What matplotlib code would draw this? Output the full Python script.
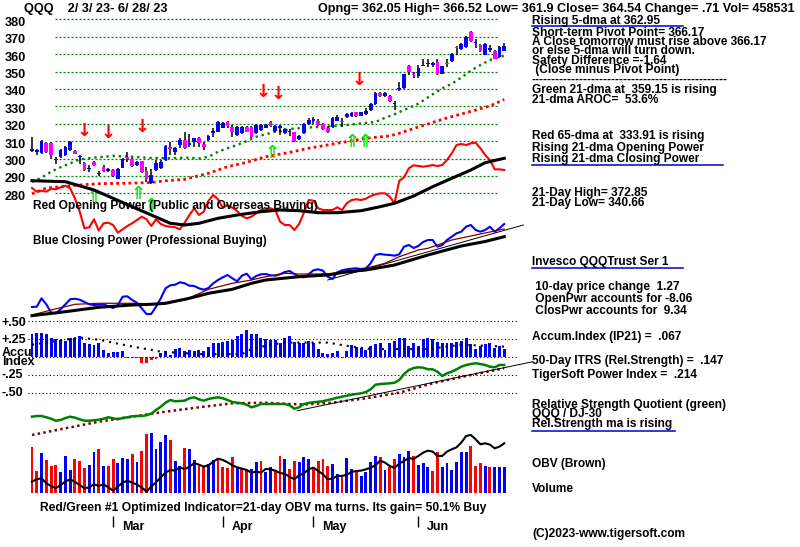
import matplotlib
matplotlib.use("Agg")
import matplotlib.pyplot as plt
from matplotlib.lines import Line2D

W, H = 800, 547
X0, DX = 32.0, 4.77          # pixel x of the first session, pixels per session
FONT = "Liberation Sans"
FS = 8.6

# ---------------- data (one value per trading session, 2/3/23 .. 6/28/23) ----------------
opens = [304.3, 304.0, 303.3, 308.9, 308.9, 299.0, 300.8, 301.8, 304.7, 304.3,
         301.0, 297.4, 294.0, 298.0, 291.0, 295.0, 293.0, 293.6, 288.4, 294.8,
         301.0, 300.0, 296.0, 298.4, 292.6, 285.9, 293.6, 294.5, 299.0, 306.7,
         304.0, 307.7, 310.6, 308.0, 309.6, 311.9, 308.3, 310.6, 314.8, 315.4,
         317.7, 321.2, 318.3, 313.5, 314.4, 318.0, 318.3, 314.4, 316.3, 317.7,
         320.8, 316.0, 317.8, 314.7, 315.0, 315.0, 311.0, 314.7, 320.0, 321.8,
         321.8, 320.0, 317.4, 318.0, 321.8, 321.8, 323.8, 324.4, 326.6, 324.7,
         325.7, 327.6, 331.4, 337.5, 335.8, 335.8, 331.2, 339.8, 340.4, 353.0,
         348.2, 347.3, 353.3, 354.2, 354.0, 355.4, 348.7, 354.4, 355.8, 363.7,
         363.0, 364.0, 372.7, 366.4, 365.4, 359.6, 362.6, 362.0, 358.3, 362.05]
closes = [305.6, 304.5, 310.0, 303.7, 301.8, 299.3, 305.0, 306.6, 309.5, 302.8,
          301.3, 293.6, 294.3, 296.0, 291.3, 293.0, 293.3, 290.0, 294.0, 300.0,
          299.7, 295.5, 298.0, 292.2, 288.4, 290.3, 297.4, 298.0, 307.1, 305.2,
          306.0, 310.6, 305.8, 308.3, 311.5, 308.7, 306.7, 313.0, 315.8, 321.2,
          320.2, 318.8, 315.4, 318.3, 318.3, 315.4, 312.5, 319.2, 319.2, 319.2,
          318.8, 318.8, 318.0, 316.7, 315.2, 310.0, 313.0, 320.0, 322.4, 322.0,
          319.0, 317.0, 315.5, 323.2, 323.8, 321.0, 325.7, 326.2, 324.2, 326.6,
          327.2, 331.4, 337.5, 335.8, 337.5, 333.0, 331.4, 340.0, 348.5, 349.6,
          348.0, 352.0, 353.5, 354.4, 354.2, 348.3, 353.0, 354.2, 360.2, 363.5,
          366.0, 369.8, 367.3, 366.5, 361.5, 366.0, 362.7, 357.3, 364.0, 364.54]
highs = [312.3, 305.6, 310.8, 309.5, 309.2, 300.8, 305.5, 307.0, 310.0, 304.8,
         301.8, 298.0, 296.4, 298.5, 293.0, 296.4, 294.5, 294.0, 294.5, 300.3,
         303.5, 300.5, 298.5, 298.8, 295.0, 293.8, 299.0, 299.0, 307.5, 309.6,
         306.7, 311.5, 315.4, 313.8, 311.8, 312.5, 309.6, 313.5, 317.3, 321.6,
         321.0, 321.6, 319.2, 318.8, 318.8, 318.5, 318.8, 319.6, 319.6, 319.6,
         321.6, 319.2, 319.2, 317.3, 317.0, 315.5, 313.5, 320.4, 323.0, 323.6,
         322.5, 320.5, 318.5, 323.6, 325.0, 323.2, 326.0, 326.6, 327.0, 327.0,
         328.9, 331.8, 338.0, 338.0, 338.5, 336.5, 333.0, 344.0, 348.8, 353.5,
         350.0, 353.5, 357.3, 357.3, 355.4, 357.3, 353.3, 357.3, 360.6, 364.7,
         366.4, 370.2, 373.1, 368.5, 365.8, 366.4, 365.0, 362.4, 364.4, 366.52]
lows = [304.0, 302.0, 302.8, 303.0, 299.9, 297.0, 300.5, 301.5, 304.2, 302.5,
        297.0, 293.0, 292.2, 295.5, 290.0, 292.5, 292.0, 289.5, 288.0, 294.5,
        298.0, 295.0, 295.5, 291.5, 286.5, 285.5, 293.0, 294.0, 298.5, 302.0,
        302.0, 305.8, 305.5, 306.7, 306.7, 306.7, 304.8, 310.0, 312.5, 315.4,
        317.5, 317.7, 312.5, 313.0, 314.0, 315.0, 312.0, 314.0, 316.0, 317.3,
        318.3, 315.5, 313.5, 314.2, 313.0, 309.5, 310.5, 314.2, 319.5, 319.9,
        318.5, 316.5, 314.7, 317.5, 321.5, 318.0, 323.5, 324.0, 323.8, 324.3,
        325.0, 327.2, 331.0, 335.3, 335.5, 332.5, 327.7, 339.0, 340.0, 347.8,
        346.0, 346.0, 353.0, 352.4, 352.4, 348.0, 348.3, 352.4, 355.4, 359.4,
        362.5, 363.5, 366.7, 363.5, 361.0, 359.2, 361.3, 357.0, 358.0, 361.9]

# 21-dma (green) and 65-dma (red), read at selected sessions
ma21_days = [0, 2, 4, 6, 8, 10, 13, 17, 21, 25, 29, 33, 35, 37, 39, 41, 43, 45, 47, 49,
             51, 53, 54, 58, 62, 66, 69, 72, 74, 76, 78, 81, 84, 86, 88, 90, 92, 94, 96, 99]
ma21 = [286.5, 289.0, 292.4, 295.0, 297.2, 299.5, 300.5, 301.5, 301.0, 300.3, 300.2,
        300.5, 300.0, 301.0, 303.9, 305.9, 307.8, 310.0, 312.5, 313.9, 315.4, 316.0,
        317.0, 317.8, 318.4, 319.2, 320.2, 321.0, 323.4, 325.4, 327.9, 331.5, 336.9,
        340.3, 343.0, 346.5, 350.5, 353.7, 356.6, 359.15]
ma65_days = [0, 3, 6, 10, 14, 20, 25, 28, 32, 37, 41, 45, 49, 54, 58, 62, 66, 70, 75,
             77, 82, 87, 91, 96, 99]
ma65 = [279.7, 283.0, 283.8, 284.8, 285.5, 285.8, 286.2, 287.2, 288.0, 291.5, 295.3,
        297.8, 301.0, 303.5, 305.9, 307.8, 309.7, 311.6, 313.0, 314.5, 319.0, 323.3,
        326.3, 330.2, 333.91]

# Opening Power (red) and its moving average (black), index units
open_power = [52, 48.3, 49.3, 48.3, 51.3, 50.7, 52.7, 54.3, 51.7, 41.7,
              28.3, 11.7, 12.7, 20.7, 9.3, 16.7, 17.3, 15, 7.3, 10.7,
              14, 16.7, 20, 23.3, 20.7, 14, 20.7, 16, 14, 13.3,
              12.7, 10.7, 17.3, 25, 31.7, 25, 28.3, 39.3, 45, 40.7,
              32.3, 35, 32.3, 29, 24, 21.7, 23.3, 26.7, 30, 30.7,
              31.7, 30, 18.3, 15, 15, 10, 16, 27.3, 40, 39.3,
              31.7, 30, 30, 30, 32.7, 30, 36.7, 40, 40.7, 40,
              41.3, 44, 45.7, 46.7, 46.7, 43.3, 36.7, 59.3, 62.7, 71.7,
              74.7, 74, 73.3, 74, 75, 74, 75, 80, 86.7, 95,
              96, 95, 96.7, 97.3, 91.7, 85, 80, 70.7, 70.7, 70]
op_ma_days = [0, 7, 13, 17, 21, 25, 29, 32, 35, 39, 43, 48, 52, 56, 60, 64, 69, 73, 76,
              80, 84, 88, 92, 95, 99]
op_ma = [59.3, 58.3, 50, 41.7, 33.3, 25, 16.7, 15, 16.7, 21.7, 25, 28.3, 30, 29.3,
         27.3, 27.3, 29.3, 33.3, 36.7, 44, 53.3, 61.7, 70, 77.3, 81.7]

# Closing Power (blue), its moving averages and trend line, index units
close_power = [23, 23.3, 31.7, 25.7, 17.3, 16.7, 20.7, 25.7, 30.7, 31.3,
               30.3, 28, 25.7, 25, 25.3, 25.7, 23.7, 22, 25, 33.3,
               33.7, 30, 27.3, 21.7, 16, 16, 23.3, 31.7, 41.7, 44.7,
               45.3, 47.7, 46.7, 44.3, 44, 41.7, 40.3, 42, 46.7, 50,
               52.7, 55, 51.7, 48.7, 54.3, 56.3, 50.7, 54, 55.7, 56,
               54.7, 54.3, 55.7, 58, 59, 56, 53.3, 52.7, 55.7, 59.7,
               60.7, 59.3, 53.3, 51, 57.7, 59.7, 60.7, 61.3, 61.7, 61,
               61.7, 66.7, 75, 76, 75.3, 75, 74.3, 75.7, 83.3, 85,
               82, 84, 88, 90, 90, 83.3, 85, 90, 93.3, 96.7,
               98.3, 103.3, 105, 100, 98.3, 100, 103.3, 98.3, 101.7, 106]
cp_ma_days = [0, 4, 9, 14, 21, 26, 32, 37, 42, 46, 49, 53, 56, 60, 67, 70, 74, 77, 81,
              83, 88, 93, 98, 99]
cp_ma = [15, 20, 25.7, 26.7, 26.7, 26, 30, 40.7, 46.7, 50, 53.3, 56.7, 56, 56, 57.3,
         61.7, 66.7, 73.3, 80, 81.7, 90, 95, 100, 101]
cp_slow_days = [0, 7, 14, 21, 25, 28, 33, 37, 42, 46, 49, 56, 62, 66, 70, 76, 83, 90, 95, 99]
cp_slow = [14.3, 18.3, 22.7, 25, 25.7, 26.7, 31.7, 36.7, 40.7, 46.7, 50, 53.3, 55, 58.3,
           60, 65, 75, 84, 88.5, 93.3]
cp_trend_days = [62, 103]
cp_trend = [50, 105]

# Accumulation Index (IP21) and its moving average
accum = [0.32, 0.34, 0.34, 0.32, 0.26, 0.25, 0.24, 0.22, 0.26, 0.27,
         0.29, 0.20, 0.18, 0.16, 0.19, 0.10, 0.06, 0.07, 0.07, 0.08,
         -0.02, -0.015, -0.02, -0.08, -0.09, -0.04, -0.03, 0.056, 0.08, 0.03,
         0.11, 0.12, 0.08, 0.10, 0.09, 0.10, 0.08, 0.14, 0.19, 0.20,
         0.21, 0.22, 0.24, 0.29, 0.32, 0.37, 0.32, 0.32, 0.27, 0.25,
         0.24, 0.24, 0.19, 0.27, 0.29, 0.21, 0.20, 0.20, 0.22, 0.19,
         0.11, 0.05, 0.04, 0.05, 0.09, -0.02, 0.09, 0.16, 0.14, 0.12,
         0.10, 0.15, 0.18, 0.19, 0.10, 0.19, 0.22, 0.26, 0.26, 0.15,
         0.19, 0.15, 0.25, 0.26, 0.25, 0.21, 0.19, 0.19, 0.20, 0.21,
         0.22, 0.26, 0.18, 0.11, 0.15, 0.18, 0.19, 0.13, 0.15, 0.11]
accum_ma_days = [0, 10, 14, 21, 27, 35, 44, 46, 50, 53, 62, 67, 71, 83, 90, 99]
accum_ma = [0.17, 0.27, 0.24, 0.145, 0.075, 0.04, 0.04, 0.11, 0.17, 0.20, 0.20, 0.145,
            0.11, 0.11, 0.17, 0.145]

# Relative strength quotient QQQ / DJ-30 (green), its ma and trend line
rs = [23.3, 24, 24, 22.7, 21.3, 19.3, 20, 22, 23.3, 22.3,
      20.7, 19.3, 19.3, 19.7, 20.3, 21.3, 22.7, 21.7, 20.7, 22,
      22.7, 23.7, 24, 24, 24.7, 26.3, 30, 33.3, 37.3, 40,
      38.7, 39, 39.3, 41.7, 42.7, 40.7, 39.3, 41, 42, 42.7,
      41.7, 40, 38, 37.3, 36.7, 35.3, 32.7, 34, 36, 36,
      36, 36, 36, 36, 34.7, 31.3, 32.7, 36, 37, 37.7,
      38.3, 38.7, 40, 41, 42.3, 43.3, 44.3, 45.3, 46, 46.7,
      48, 50.7, 55.3, 56, 56.3, 56.7, 57.3, 60, 66, 70,
      72, 72.7, 72.3, 70.7, 70.7, 68.3, 64, 66.7, 68.3, 70.7,
      73.3, 75, 76, 76.7, 76, 75, 73.3, 72.7, 75, 75]
rs_ma_days = [0, 7, 14, 21, 28, 35, 42, 49, 54, 57, 63, 70, 77, 84, 91, 99]
rs_ma = [5, 11.7, 18.3, 23.3, 28.3, 32.7, 36.7, 37.3, 36, 35.5, 37.3, 41.7, 47.3, 56.7,
         64, 71.7]
rs_trend_days = [55.6, 105]
rs_trend = [29.3, 78.3]

# Volume (thousands), session direction (U = up, D = down) and OBV
volume = [823, 400, 717, 588, 482, 500, 382, 659, 412, 600,
          576, 453, 500, 735, 776, 482, 482, 600, 541, 617,
          600, 694, 559, 753, 1047, 1070, 776, 911, 1029, 941,
          576, 482, 794, 776, 588, 482, 459, 517, 588, 600,
          459, 441, 647, 459, 423, 412, 423, 559, 570, 382,
          459, 412, 659, 600, 423, 570, 559, 635, 600, 459,
          570, 600, 482, 517, 335, 294, 617, 423, 412, 306,
          382, 559, 659, 635, 412, 459, 600, 694, 635, 753,
          659, 500, 541, 459, 400, 735, 459, 541, 412, 559,
          735, 735, 835, 482, 541, 482, 459, 459, 459, 458.5]
direction = ("DDUDDDUUUD" "DDUUDUDDUU" "UDUDDUUUUD" "UUDUUDDUUD" "DDDUDDUUDU"
             "UDDUDDUUUD" "DDDUUDUUDU" "UUUDUDDUUU" "DUUUDDUUUU" "UUDDDUDUUU")
obv = [35, 42, 45, 30, 22, 15, 25, 35, 42, 34,
       25, 15, 18, 27, 22, 27, 18, 8, 20, 32,
       38, 32, 26, 18, 5, 20, 33, 48, 62, 70,
       68, 78, 72, 80, 90, 86, 80, 84, 95, 104,
       100, 93, 84, 78, 74, 70, 62, 65, 62, 73,
       72, 68, 61, 58, 50, 42, 54, 60, 72, 77,
       67, 57, 42, 44, 52, 52, 56, 64, 67, 68,
       72, 77, 84, 98, 92, 82, 76, 89, 97, 106,
       103, 112, 122, 128, 125, 112, 112, 125, 132, 138,
       152, 172, 175, 162, 147, 150, 146, 135, 140, 150]

# signals
sell_days = [11, 16, 23, 48.5, 51.5, 68.5]
sell_prices = [316.0, 314.5, 318.0, 338.0, 337.0, 345.0]
buy_days = [13, 22.3, 25, 50.3, 67.2, 69.8]
buy_prices = [278.0, 279.5, 272.5, 303.0, 309.5, 309.5]

month_days = [17, 40, 59, 81]
month_names = ["Mar", "Apr", "May", "Jun"]
price_ticks = [380, 370, 360, 350, 340, 330, 320, 310, 300, 290, 280]


# ---------------- helpers ----------------
def day(px):
    return (px - X0) / DX


def span(v0, y0, v1, y1):
    """y-limits that put value v0 at pixel row y0 and v1 at row y1."""
    k = (v1 - v0) / (y1 - y0)
    return v0 + (H - y0) * k, v0 - y0 * k


fig = plt.figure(figsize=(W / 100, H / 100), dpi=100)


def layer(ylim):
    ax = fig.add_axes([0, 0, 1, 1])
    ax.set_xlim(day(0), day(W))
    ax.set_ylim(*ylim)
    ax.axis("off")
    return ax


def label(x, y, s, size=FS, color="black", **kw):
    fig.text(x / W, 1 - y / H, s, fontsize=size, fontweight="bold", family=FONT,
             color=color, va="center", ha="left", **kw)


def underline(x0, x1, y, color="#0000cc"):
    fig.add_artist(Line2D([x0 / W, x1 / W], [1 - y / H] * 2, color=color, lw=1.1))


days = list(range(len(closes)))

# ---------------- price panel ----------------
ax_p = layer(span(380, 19.3, 280, 193.3))
ax_p.hlines(price_ticks, day(55), day(497), colors="#008000", lw=0.9,
            linestyles=(0, (1.6, 1.6)))
for p in price_ticks:
    ax_p.text(day(5), p - 2.0, str(p), fontsize=FS + 0.5, fontweight="bold",
              family=FONT, va="center", ha="left")
ax_p.plot(ma21_days, ma21, color="#008000", lw=1.7, ls=(0, (1, 1.6)))
ax_p.plot(ma65_days, ma65, color="#ff0000", lw=2.0, ls=(0, (1, 1.2)))

ax_p.vlines(days, lows, highs, colors="black", lw=1.1, zorder=3)
body_lo = [min(o, c) for o, c in zip(opens, closes)]
body_h = [max(abs(c - o), 0.7) for o, c in zip(opens, closes)]
body_c = ["#0000ff" if c >= o else "#ff00ff" for o, c in zip(opens, closes)]
ax_p.bar(days, body_h, bottom=body_lo, width=0.78, color=body_c, zorder=4)

for d, p in zip(sell_days, sell_prices):
    ax_p.text(d, p, "\u2193", color="#ff0000", fontsize=13, fontweight="bold",
              family="DejaVu Sans", ha="center", va="center", zorder=5)
for d, p in zip(buy_days, buy_prices):
    ax_p.text(d, p, "\u21d1", color="#00ee00", fontsize=13, fontweight="bold",
              family="DejaVu Sans", ha="center", va="center", zorder=5)

# opening power overlay
ax_op = layer(span(0, 240, 100, 140))
ax_op.plot(days, open_power, color="#ff0000", lw=1.5)
ax_op.plot(op_ma_days, op_ma, color="black", lw=2.2)

# closing power
ax_cp = layer(span(0, 330, 100, 230))
ax_cp.plot(cp_trend_days, cp_trend, color="black", lw=0.7)
ax_cp.plot(days, close_power, color="#0000ff", lw=1.5)
ax_cp.plot(cp_ma_days, cp_ma, color="#800000", lw=0.9)
ax_cp.plot(cp_slow_days, cp_slow, color="black", lw=2.2)

# accumulation index
ax_ac = layer(span(0, 357, 0.5, 321))
ax_ac.hlines([0.5, 0.25, 0, -0.25, -0.5], day(28), day(517), colors="black", lw=0.8,
             linestyles=(0, (1, 2.2)))
ac_c = ["#0000ff" if v >= 0 else "#ff0000" for v in accum]
ax_ac.bar(days, accum, width=0.62, color=ac_c)
ax_ac.plot(accum_ma_days, accum_ma, color="black", lw=1.5, ls=(0, (1, 2.4)))

# relative strength quotient
ax_rs = layer(span(0, 440, 100, 340))
ax_rs.plot(rs_ma_days, rs_ma, color="#800000", lw=1.8, ls=(0, (1, 1.3)))
ax_rs.plot(rs_trend_days, rs_trend, color="black", lw=0.7)
ax_rs.plot(days, rs, color="#008000", lw=1.8)

# volume and OBV
ax_v = layer(span(0, 493.3, 1205, 425))
vol_c = ["#0000ff" if s == "U" else "#ff0000" for s in direction]
ax_v.bar(days, volume, width=0.6, color=vol_c)
ax_obv = layer(span(0, 493.3, 300, 393.3))
ax_obv.plot(days, obv, color="black", lw=1.5)

# month ticks
ax_m = layer(span(0, H, H, 0))
ax_m.vlines(month_days, H - 527, H - 516, colors="black", lw=1)
for d, m in zip(month_days, month_names):
    ax_m.text(d + 1.8, H - 527, m, fontsize=FS + 0.4, fontweight="bold", family=FONT,
              va="center", ha="left")

# ---------------- texts ----------------
label(24, 9, "QQQ    2/ 3/ 23- 6/ 28/ 23", size=9.2)
label(318, 9, "Opng= 362.05 High= 366.52 Low= 361.9 Close= 364.54 Change= .71 Vol= 458531",
      size=9.05)

label(33, 206, "Red Opening Power (Public and Overseas Buying)", size=8.6)
label(33, 241, "Blue Closing Power (Professional Buying)", size=8.4)

for y, s in [(323, "+.50"), (340, "+.25"), (353, "Accu"), (362, "Index"),
             (375, "-.25"), (393, "-.50")]:
    label(2, y, s, size=9.0)

label(40, 508, "Red/Green #1 Optimized Indicator=21-day OBV ma turns. Its gain= 50.1% Buy",
      size=8.7)

right = [
    (21, "Rising 5-dma at 362.95"),
    (32.5, "Short-term Pivot Point= 366.17"),
    (42, "A Close tomorrow must rise above 366.17"),
    (51, "or else 5-dma will turn down."),
    (61, "Safety Difference =-1.64"),
    (70, " (Close minus Pivot Point)"),
    (80, "-" * 49),
    (89.5, "Green 21-dma at  359.15 is rising"),
    (100, "21-dma AROC=  53.6%"),
    (136, "Red 65-dma at  333.91 is rising"),
    (147.5, "Rising 21-dma Opening Power"),
    (159, "Rising 21-dma Closing Power"),
    (193, "21-Day High= 372.85"),
    (203, "21-Day Low= 340.66"),
    (262, "Invesco QQQTrust Ser 1"),
    (287, " 10-day price change  1.27"),
    (299, " OpenPwr accounts for -8.06"),
    (310.5, " ClosPwr accounts for  9.34"),
    (337, "Accum.Index (IP21) =  .067"),
    (361, "50-Day ITRS (Rel.Strength) =  .147"),
    (375, "TigerSoft Power Index =  .214"),
    (405, "Relative Strength Quotient (green)"),
    (414, "QQQ / DJ-30"),
    (424, "Rel.Strength ma is rising"),
    (463.5, "OBV (Brown)"),
    (488.5, "Volume"),
    (534, "(C)2023-www.tigersoft.com"),
]
for y, s in right:
    label(532, y, s)

underline(532, 683, 25.5)
underline(532, 723, 165)
underline(532, 683, 267.5)
underline(532, 675, 431)

fig.savefig("out.png", dpi=100)
